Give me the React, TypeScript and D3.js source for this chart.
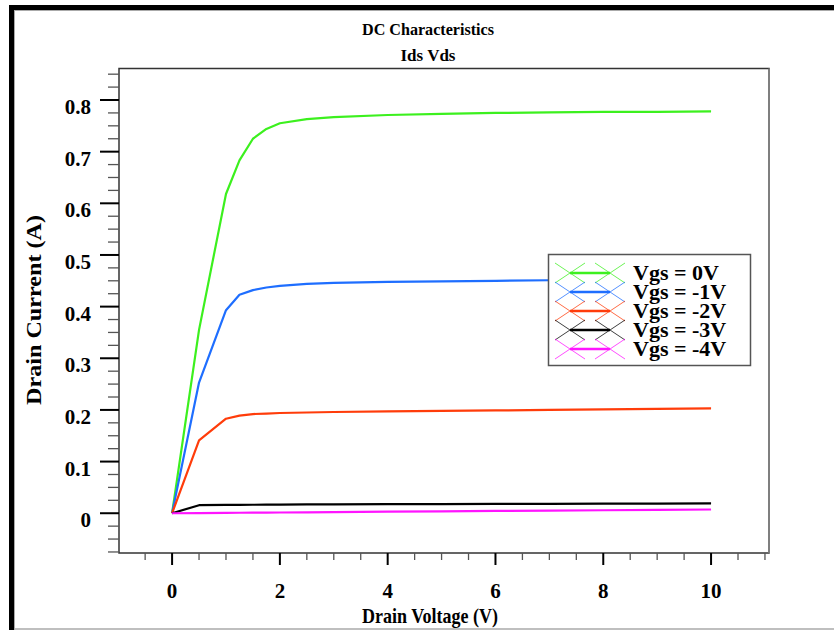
import React from "react";
import * as d3 from "d3";

const vds = [0, 0.5, 1, 1.25, 1.5, 1.75, 2, 2.5, 3, 4, 5, 6, 7, 8, 9, 10];
const vgs0 = [0, 0.355, 0.618, 0.683, 0.725, 0.744, 0.755, 0.763, 0.767, 0.771, 0.773, 0.775, 0.776, 0.777, 0.777, 0.778];
const vgs1 = [0, 0.253, 0.393, 0.423, 0.432, 0.437, 0.44, 0.444, 0.446, 0.448, 0.449, 0.45, 0.451, 0.452, 0.453, 0.454];
const vgs2 = [0, 0.141, 0.183, 0.189, 0.192, 0.193, 0.194, 0.195, 0.196, 0.197, 0.198, 0.199, 0.2, 0.201, 0.202, 0.203];
const vgs3 = [0, 0.0155, 0.016, 0.0162, 0.0164, 0.0166, 0.0168, 0.017, 0.0172, 0.0175, 0.0178, 0.018, 0.0183, 0.0185, 0.0187, 0.019];
const vgs4 = [0, 0.0003, 0.0007, 0.0009, 0.001, 0.0012, 0.0014, 0.0018, 0.0022, 0.003, 0.0037, 0.0044, 0.0051, 0.0058, 0.0065, 0.0072];

const seriesNames = ["Vgs = 0V", "Vgs = -1V", "Vgs = -2V", "Vgs = -3V", "Vgs = -4V"];
const seriesColors = ["#3cf01e", "#1e6eff", "#ff3c0a", "#000000", "#ff14ff"];
const seriesValues = [vgs0, vgs1, vgs2, vgs3, vgs4];

const xMajorTicks = [0, 2, 4, 6, 8, 10];
const yMajorTicks = [0, 0.1, 0.2, 0.3, 0.4, 0.5, 0.6, 0.7, 0.8];

const FONT = "'Liberation Serif', 'Times New Roman', serif";

export default function App() {
  const W = 834, H = 630;
  const left = 119, right = 769, top = 68.5, bottom = 553;
  const x = d3.scaleLinear().domain([-0.985, 11.075]).range([left, right]);
  const y = d3.scaleLinear().domain([-0.077, 0.861]).range([bottom, top]);

  const line = d3.line<[number, number]>().x(d => x(d[0])).y(d => y(d[1]));

  const xMinor = d3.range(-0.5, 11.01, 0.5).filter(v => !xMajorTicks.some(m => Math.abs(m - v) < 1e-6));
  const yMinor = d3.range(-0.075, 0.851, 0.025).filter(v => !yMajorTicks.some(m => Math.abs(m - v) < 1e-6));

  const lgX = 548.5, lgY = 254.5, lgW = 202, lgH = 111;
  const rowY = (i: number) => 273 + i * 19;

  return (
    <svg width={W} height={H} style={{ position: "absolute", left: 0, top: 0, background: "#fff" }} fontFamily={FONT}>
      <rect x={0} y={0} width={W} height={H} fill="#fff" />
      {/* outer page frame */}
      <rect x={9} y={5} width={W - 9} height={5} fill="#000" />
      <rect x={9} y={5} width={5} height={H - 5} fill="#000" />
      <line x1={14} x2={W} y1={10.5} y2={10.5} stroke="#aaa" strokeWidth={1} />
      <line x1={14.5} x2={14.5} y1={10} y2={H} stroke="#aaa" strokeWidth={1} />
      <line x1={14} x2={W} y1={629} y2={629} stroke="#aaa" strokeWidth={1.5} />

      {/* titles */}
      <text x={428} y={35} textAnchor="middle" fontWeight="bold" fontSize={16} textLength={132} lengthAdjust="spacingAndGlyphs">DC Characteristics</text>
      <text x={428} y={61} textAnchor="middle" fontWeight="bold" fontSize={16} textLength={55} lengthAdjust="spacingAndGlyphs">Ids Vds</text>

      {/* plot frame */}
      <rect x={left} y={top} width={right - left} height={bottom - top} fill="#fff" stroke="#333" strokeWidth={1.5} />
      <line x1={right} x2={right} y1={top} y2={bottom} stroke="#888" strokeWidth={1.5} />

      {/* y ticks */}
      {yMinor.map((v, i) => (
        <line key={"ym" + i} x1={108} x2={left} y1={y(v)} y2={y(v)} stroke="#555" strokeWidth={1.3} />
      ))}
      {yMajorTicks.map((v, i) => (
        <g key={"yM" + i}>
          <line x1={100} x2={left} y1={y(v)} y2={y(v)} stroke="#000" strokeWidth={2} />
          <text x={91} y={y(v) + 14} textAnchor="end" fontWeight="bold" fontSize={21}>
            {d3.format(v === 0 ? "d" : ".1f")(v)}
          </text>
        </g>
      ))}

      {/* x ticks */}
      {xMinor.map((v, i) => (
        <line key={"xm" + i} x1={x(v)} x2={x(v)} y1={bottom} y2={560} stroke="#555" strokeWidth={1.3} />
      ))}
      {xMajorTicks.map((v, i) => (
        <g key={"xM" + i}>
          <line x1={x(v)} x2={x(v)} y1={bottom} y2={565} stroke="#000" strokeWidth={2} />
          <text x={x(v)} y={598} textAnchor="middle" fontWeight="bold" fontSize={21}>{v}</text>
        </g>
      ))}

      {/* axis labels */}
      <text x={430} y={623} textAnchor="middle" fontWeight="bold" fontSize={22} textLength={136} lengthAdjust="spacingAndGlyphs">Drain Voltage (V)</text>
      <text transform="translate(41,310) rotate(-90)" textAnchor="middle" fontWeight="bold" fontSize={22} textLength={190} lengthAdjust="spacingAndGlyphs">Drain Current (A)</text>

      {/* curves */}
      {seriesValues.map((vals, si) => (
        <path key={"s" + si} d={line(vds.map((v, i) => [v, vals[i]] as [number, number])) || ""}
          fill="none" stroke={seriesColors[si]} strokeWidth={2.2} strokeLinejoin="round" />
      ))}

      {/* legend */}
      <rect x={lgX} y={lgY} width={lgW} height={lgH} fill="#fff" stroke="#555" strokeWidth={1.5} />
      {seriesNames.map((name, i) => {
        const cy = rowY(i);
        const c = seriesColors[i];
        return (
          <g key={"lg" + i}>
            {[570, 610].map(cx => (
              <g key={cx} stroke={c} strokeWidth={1} opacity={0.75}>
                <line x1={cx - 15} y1={cy - 10} x2={cx + 15} y2={cy + 10} />
                <line x1={cx - 15} y1={cy + 10} x2={cx + 15} y2={cy - 10} />
              </g>
            ))}
            <line x1={570} x2={610} y1={cy} y2={cy} stroke={c} strokeWidth={2.5} />
            <text x={633} y={cy + 7} fontWeight="bold" fontSize={22}>{name}</text>
          </g>
        );
      })}
    </svg>
  );
}
